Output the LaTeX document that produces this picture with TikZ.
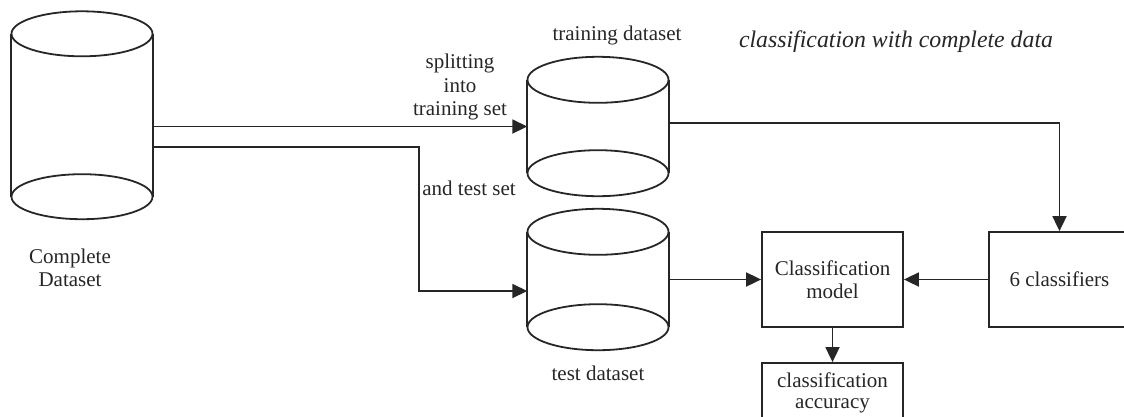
\documentclass[tikz,border=0pt]{standalone}
\usepackage{fontspec}
\setmainfont{Liberation Serif}
\usetikzlibrary{arrows.meta}
\begin{document}
\begin{tikzpicture}[x=1pt,y=-1pt,
  every node/.style={font=\fontsize{21}{23.5}\selectfont, text=black!85},
  line/.style={line width=1.8pt, draw=black!85},
  arr/.style={line, -{Triangle[length=15pt,width=14pt]}},
  cylarea/.style={rectangle, inner sep=0pt, minimum width=141pt},
  boxnode/.style={line, rectangle, inner sep=0pt, minimum width=141pt, align=center},
  lbl/.style={align=center, inner sep=0pt}]
\useasboundingbox (0,0) rectangle (1124,416);
% cylinder areas (between ellipse centres)
\node[cylarea, minimum height=162.5pt] (cd) at (82,115.25) {};
\node[cylarea, minimum height=93pt] (train) at (598,126.5) {};
\node[cylarea, minimum height=95pt] (test) at (598,279.5) {};
\foreach \c/\ry in {cd/22.5pt, train/23pt, test/23pt}{
  \draw[line] (\c.north west) -- (\c.south west) (\c.north east) -- (\c.south east);
  \draw[line] (\c.north) ellipse [x radius=70.5pt, y radius=\ry];
  \draw[line] (\c.south) ellipse [x radius=70.5pt, y radius=\ry];
}
% boxes
\node[boxnode, minimum height=95pt] (model) at (832.5,279.5) {Classification\\model};
\node[boxnode, minimum height=95pt] (cls) at (1059.5,279.5) {6 classifiers};
\node[boxnode, minimum height=60pt] (acc) at (832.5,393) {\raisebox{3pt}{\begin{tabular}{@{}c@{}}classification\\[-2.5pt]accuracy\end{tabular}}};
% labels
\node[lbl] (lcd) at (70,268) {Complete\\Dataset};
\node[lbl] (ltrain) at (617,35) {training dataset};
\node[lbl] (ltest) at (598,373) {test dataset};
\node[lbl] (lsplit) at (460,87) {splitting\\into\\training set};
\node[lbl] (land) at (469,188) {and test set};
\node[lbl, font=\fontsize{23.8}{26}\selectfont\itshape] (ltitle) at (896,42) {classification with complete data};
% connectors
\coordinate (bend) at (419,147);
\draw[arr] (cd.east |- train.west) -- (train.west);
\draw[arr] (cd.east |- bend) -- (bend) |- ([yshift=-11.5pt]test.west);
\draw[arr] ([yshift=3.5pt]train.east) -| (cls.north);
\draw[arr] (test.east) -- (model.west);
\draw[arr] (cls.west) -- (model.east);
\draw[arr] (model.south) -- (acc.north);
\end{tikzpicture}
\end{document}
